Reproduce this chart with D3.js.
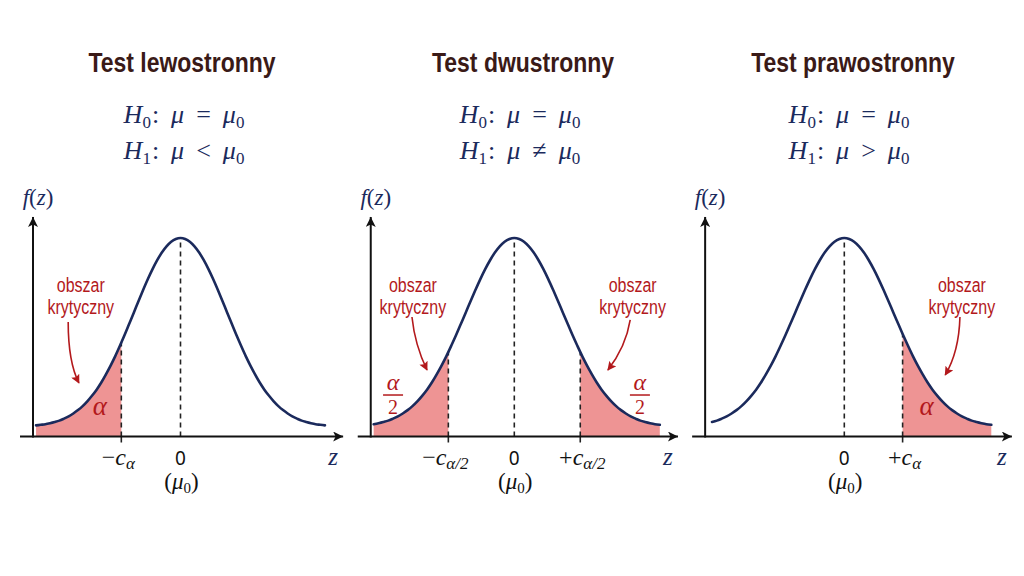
<!DOCTYPE html>
<html><head><meta charset="utf-8">
<script src="https://cdn.jsdelivr.net/npm/d3@7"></script>
<style>body{margin:0;background:#fff} svg{display:block}</style>
</head><body>
<svg id="chart" width="1024" height="576"></svg>
<script>
// ---------------- DATA ----------------
const panelTitles = ["Test lewostronny", "Test dwustronny", "Test prawostronny"];
const h1Relations = ["<", "≠", ">"];
// standardised z grid and density heights (peak = 1)
const curveZ = [-3.1,-3.0,-2.9,-2.8,-2.7,-2.6,-2.5,-2.4,-2.3,-2.2,-2.1,-2.0,-1.9,-1.8,-1.7,-1.6,-1.5,-1.4,-1.3,-1.2,-1.1,-1.0,-0.9,-0.8,-0.7,-0.6,-0.5,-0.4,-0.3,-0.2,-0.1,0,
                0.1,0.2,0.3,0.4,0.5,0.6,0.7,0.8,0.9,1.0,1.1,1.2,1.3,1.4,1.5,1.6,1.7,1.8,1.9,2.0,2.1,2.2,2.3,2.4,2.5,2.6,2.7,2.8,2.9,3.0,3.1];
const curveF = [0.056,0.059,0.062,0.067,0.073,0.080,0.090,0.101,0.116,0.133,0.153,0.177,0.205,0.236,0.272,0.313,0.357,0.405,0.457,0.511,0.568,0.625,0.683,0.739,0.793,0.843,0.888,0.927,0.958,0.981,0.995,1.000,
                0.995,0.981,0.958,0.927,0.888,0.843,0.793,0.739,0.683,0.625,0.568,0.511,0.457,0.405,0.357,0.313,0.272,0.236,0.205,0.177,0.153,0.133,0.116,0.101,0.090,0.080,0.073,0.067,0.062,0.059,0.056];
const curveRange = [[-3.1, 3.1], [-2.9, 3.0], [-2.7, 3.0]];
const critLeft  = [-1.27, -1.36, null];
const critRight = [null, 1.36, 1.19];
const critLeftSub  = ["α", "α/2", null];
const critRightSub = [null, "α/2", "α"];
const regionLabel = ["obszar", "krytyczny"];
const tailLabelLeft  = ["α", "α/2", null];
const tailLabelRight = [null, "α/2", "α"];

// ---------------- LAYOUT ----------------
const W = 1024, H = 576;
const centerPx = [180.5, 514.3, 844.3];
const sigmaPx  = [46.6, 48.5, 49.0];
const axisLeftZ  = [-3.165, -2.96, -2.84];   // y-axis position (z units)
const axisRightZ = [3.49, 3.375, 3.42];       // x-axis arrow tip (z units)
const titleX = [182, 523, 853];
const hypX   = [184, 520, 849];
// annotation anchors in data units [z, f]
const labelAnchorL = [[-2.14, 0.728], [-2.09, 0.728], null];
const labelAnchorR = [null, [2.44, 0.728], [2.40, 0.728]];
const arrowL = [[[-2.41,0.577],[-2.41,0.375],[-2.18,0.27]], [[-2.11,0.602],[-2.05,0.461],[-1.80,0.335]], null];
const arrowR = [null, [[2.39,0.587],[2.30,0.451],[1.93,0.335]], [[2.36,0.602],[2.34,0.426],[2.06,0.31]]];
const tailPosL = [[-1.73, 0.108], [-2.50, 0.209], null];
const tailPosR = [null, [2.59, 0.209], [1.68, 0.108]];

const navy = "#1b2a5c", red = "#b3191c", fillCol = "#ee9494", titleCol = "#3a1a17";
const sans = "'Liberation Sans',Arimo,Arial,sans-serif";
const serif = "'Liberation Serif','DejaVu Serif',serif";

const svg = d3.select("#chart");
svg.append("rect").attr("width", W).attr("height", H).attr("fill", "#fff");

const defs = svg.append("defs");
defs.append("marker").attr("id", "axArrow").attr("viewBox", "0 0 10 10")
  .attr("refX", 10).attr("refY", 5).attr("markerWidth", 12).attr("markerHeight", 10)
  .attr("markerUnits", "userSpaceOnUse").attr("orient", "auto")
  .append("path").attr("d", "M0,0 L10,5 L0,10 L2.5,5 Z").attr("fill", "#111");
defs.append("marker").attr("id", "redArrow").attr("viewBox", "0 0 10 10")
  .attr("refX", 9).attr("refY", 5).attr("markerWidth", 10).attr("markerHeight", 9)
  .attr("markerUnits", "userSpaceOnUse").attr("orient", "auto")
  .append("path").attr("d", "M0,0 L10,5 L0,10 L2,5 Z").attr("fill", red);

const y = d3.scaleLinear().domain([0, 1]).range([436.5, 238]);
const pts = curveZ.map((z, i) => ({z, f: curveF[i]}));

function condense(sel, factor) {
  const len = sel.node().getComputedTextLength();
  sel.attr("textLength", len * factor).attr("lengthAdjust", "spacingAndGlyphs");
  return sel;
}

function mathText(g, x, yb, parts, size, color) {
  const t = g.append("text").attr("x", x).attr("y", yb).attr("text-anchor", "middle")
    .attr("font-family", serif).attr("font-size", size).attr("fill", color)
    .style("white-space", "pre");
  parts.forEach(p => {
    const ts = t.append("tspan").text(p.t);
    if (p.it) ts.attr("font-style", "italic");
    if (p.sz) ts.attr("font-size", p.sz);
    if (p.dy) ts.attr("dy", p.dy);
    if (p.dx) ts.attr("dx", p.dx);
  });
  return t;
}

panelTitles.forEach((title, i) => {
  const x = d3.scaleLinear().domain([-1, 1]).range([centerPx[i] - sigmaPx[i], centerPx[i] + sigmaPx[i]]);
  const g = svg.append("g");
  const [z0, z1] = curveRange[i];
  const seg = pts.filter(d => d.z >= z0 - 1e-9 && d.z <= z1 + 1e-9);

  // title
  condense(g.append("text").attr("x", titleX[i]).attr("y", 72).attr("text-anchor", "middle")
    .attr("font-family", sans).attr("font-weight", "bold").attr("font-size", 28)
    .attr("fill", titleCol).text(title), 0.82);

  // hypotheses
  const sub = 17;
  mathText(g, hypX[i], 123, [
    {t: "H", it: true}, {t: "0", sz: sub, dy: 5}, {t: ":", dy: -5, dx: 1},
    {t: "μ", it: true, dx: 12}, {t: "=", dx: 12}, {t: "μ", it: true, dx: 12}, {t: "0", sz: sub, dy: 5}
  ], 26, navy);
  mathText(g, hypX[i], 159, [
    {t: "H", it: true}, {t: "1", sz: sub, dy: 5}, {t: ":", dy: -5, dx: 1},
    {t: "μ", it: true, dx: 12}, {t: h1Relations[i], dx: 12}, {t: "μ", it: true, dx: 12}, {t: "0", sz: sub, dy: 5}
  ], 26, navy);

  // clip = area under the curve
  const area = d3.area().x(d => x(d.z)).y0(y(0)).y1(d => y(d.f)).curve(d3.curveMonotoneX);
  const line = d3.line().x(d => x(d.z)).y(d => y(d.f)).curve(d3.curveMonotoneX);
  defs.append("clipPath").attr("id", "under" + i).append("path").attr("d", area(seg));
  const cg = g.append("g").attr("clip-path", `url(#under${i})`);

  if (critLeft[i] !== null) {
    cg.append("rect").attr("x", x(z0) - 2).attr("y", y(1.2))
      .attr("width", x(critLeft[i]) - x(z0) + 2).attr("height", y(0) - y(1.2)).attr("fill", fillCol);
  }
  if (critRight[i] !== null) {
    cg.append("rect").attr("x", x(critRight[i])).attr("y", y(1.2))
      .attr("width", x(z1) - x(critRight[i]) + 2).attr("height", y(0) - y(1.2)).attr("fill", fillCol);
  }
  // dashed lines
  [0, critLeft[i], critRight[i]].filter(v => v !== null).forEach(v => {
    cg.append("line").attr("x1", x(v)).attr("x2", x(v)).attr("y1", y(0)).attr("y2", y(1.2))
      .attr("stroke", "#222").attr("stroke-width", 1.6).attr("stroke-dasharray", "5,4");
  });
  [critLeft[i], critRight[i]].filter(v => v !== null).forEach(v => {
    g.append("line").attr("x1", x(v)).attr("x2", x(v)).attr("y1", y(0)).attr("y2", y(0) + 6)
      .attr("stroke", "#222").attr("stroke-width", 1.6);
  });

  // curve
  g.append("path").attr("d", line(seg)).attr("fill", "none").attr("stroke", navy)
    .attr("stroke-width", 2.6).attr("stroke-linecap", "round");

  // axes
  const ax = x(axisLeftZ[i]);
  g.append("line").attr("x1", ax - 13).attr("x2", x(axisRightZ[i])).attr("y1", y(0)).attr("y2", y(0))
    .attr("stroke", "#111").attr("stroke-width", 2).attr("marker-end", "url(#axArrow)");
  g.append("line").attr("x1", ax).attr("x2", ax).attr("y1", y(0) + 1).attr("y2", y(1.106))
    .attr("stroke", "#111").attr("stroke-width", 2).attr("marker-end", "url(#axArrow)");

  // axis labels
  mathText(g, ax + 5, 205, [{t: "f", it: true}, {t: "("}, {t: "z", it: true}, {t: ")"}], 23, navy);
  mathText(g, x(axisRightZ[i]) - 10, 465, [{t: "z", it: true}], 25, navy);

  // tick labels
  g.append("text").attr("x", x(0)).attr("y", 465).attr("text-anchor", "middle")
    .attr("font-family", "'Noto Sans','DejaVu Sans',sans-serif").attr("font-size", 19).attr("fill", "#111").text("0");
  mathText(g, x(0) + 1, 489, [{t: "("}, {t: "μ", it: true}, {t: "0", sz: 15, dy: 4}, {t: ")", dy: -4}], 23, "#111");
  if (critLeft[i] !== null)
    mathText(g, x(critLeft[i]) - 3, 465, [{t: "−"}, {t: "c", it: true}, {t: critLeftSub[i], it: true, sz: 17, dy: 4}], 24, "#111");
  if (critRight[i] !== null)
    mathText(g, x(critRight[i]) + 2, 465, [{t: "+"}, {t: "c", it: true}, {t: critRightSub[i], it: true, sz: 17, dy: 4}], 24, "#111");

  // critical region annotations
  [[labelAnchorL[i], arrowL[i], tailPosL[i], tailLabelLeft[i]],
   [labelAnchorR[i], arrowR[i], tailPosR[i], tailLabelRight[i]]].forEach(([la, ar, tp, tl]) => {
    if (!la) return;
    regionLabel.forEach((s, k) => {
      condense(g.append("text").attr("x", x(la[0])).attr("y", y(la[1]) + k * 22).attr("text-anchor", "middle")
        .attr("font-family", sans).attr("font-size", 20).attr("fill", red).text(s), 0.8);
    });
    const p = d3.path();
    p.moveTo(x(ar[0][0]), y(ar[0][1]));
    p.quadraticCurveTo(x(ar[1][0]), y(ar[1][1]), x(ar[2][0]), y(ar[2][1]));
    g.append("path").attr("d", p.toString()).attr("fill", "none").attr("stroke", red)
      .attr("stroke-width", 1.6).attr("marker-end", "url(#redArrow)");
    if (tl === "α") {
      mathText(g, x(tp[0]), y(tp[1]), [{t: "α", it: true}], 27, red);
    } else {
      const cx = x(tp[0]), cy = y(tp[1]);
      mathText(g, cx, cy - 5, [{t: "α", it: true}], 24, red);
      g.append("line").attr("x1", cx - 10).attr("x2", cx + 10).attr("y1", cy).attr("y2", cy)
        .attr("stroke", red).attr("stroke-width", 1.5);
      mathText(g, cx, cy + 19, [{t: "2"}], 20, red);
    }
  });
});
</script>
</body></html>
